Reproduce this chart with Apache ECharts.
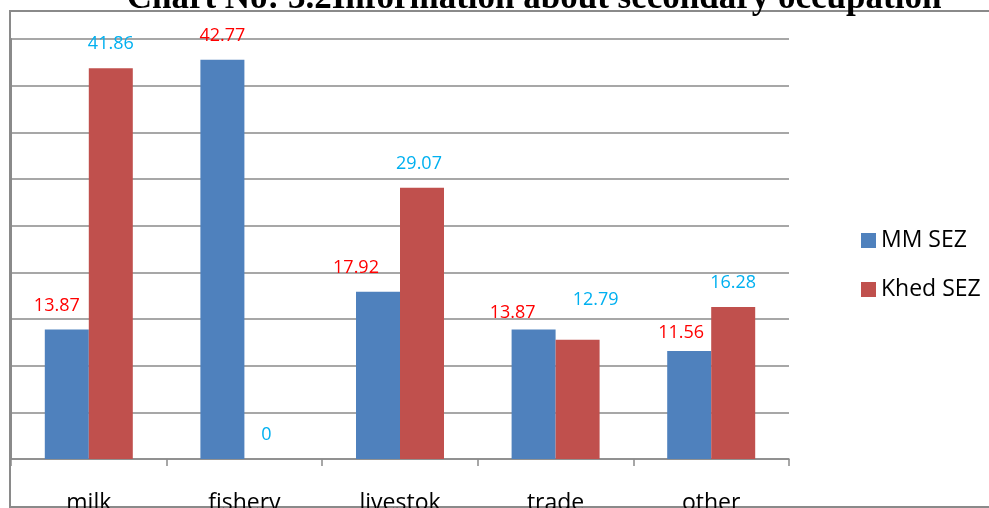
<!DOCTYPE html>
<html>
<head>
<meta charset="utf-8">
<script src="https://cdn.jsdelivr.net/npm/echarts@6/dist/echarts.min.js"></script>
<style>
  html, body { margin: 0; padding: 0; background: #ffffff; }
  #chart { width: 989px; height: 508px; }
</style>
</head>
<body>
<div id="chart"></div>
<script>
// Secondary occupation shares (%) for the two SEZ areas
const categories = ['milk', 'fishery', 'livestok', 'trade', 'other'];
const mmSez = [13.87, 42.77, 17.92, 13.87, 11.56];
const khedSez = [41.86, 0, 29.07, 12.79, 16.28];
const seriesNames = ['MM SEZ', 'Khed SEZ'];
const titleText = 'Chart No: 3.2Information about secondary occupation';

// Hand-placed label nudges [dx, dy] in pixels, one per category
const mmLabelShift = [[-10, 0], [0, 0], [-22, 0], [-21, 7], [-8, 6]];
const khedLabelShift = [[0, 0], [0, 0], [-3, 0], [18, -16], [0, 0]];

const BLUE = '#4F81BD';
const RED = '#C0504D';
const GRID = '#8a8a8a';
const FONT = '"Open Sans", "Noto Sans", sans-serif';

function withLabels(values, shifts, color) {
  return values.map((v, i) => ({
    value: v,
    label: { offset: shifts[i], color: color }
  }));
}

const chart = echarts.init(document.getElementById('chart'), null, { renderer: 'canvas' });

chart.setOption({
  backgroundColor: '#ffffff',
  animation: false,
  grid: { left: 11, right: 200, top: 39, bottom: 49, containLabel: false, outerBoundsMode: 'none' },
  graphic: [
    {
      type: 'rect',
      shape: { x: 10, y: 11, width: 1000, height: 496 },
      style: { fill: null, stroke: GRID, lineWidth: 2 },
      z: 0
    },
    {
      type: 'text',
      x: 534,
      y: -1.5,
      style: {
        text: titleText,
        font: 'bold 35px "Liberation Serif", "Times New Roman", serif',
        fill: '#000000',
        align: 'center',
        verticalAlign: 'middle'
      },
      z: 10
    }
  ],
  legend: {
    orient: 'vertical',
    left: 856,
    top: 224,
    icon: 'rect',
    itemWidth: 15,
    itemHeight: 15,
    itemGap: 26,
    textStyle: { fontFamily: FONT, fontSize: 23, color: '#000000', lineHeight: 22 },
    data: seriesNames
  },
  xAxis: {
    type: 'category',
    data: categories,
    axisLine: { show: true, lineStyle: { color: GRID, width: 1.5 } },
    axisTick: { show: true, length: 7, lineStyle: { color: GRID, width: 1.5 } },
    axisLabel: { fontFamily: FONT, fontSize: 23, color: '#000000', margin: 33 },
    splitLine: { show: false }
  },
  yAxis: {
    type: 'value',
    min: 0,
    max: 45,
    interval: 5,
    axisLine: { show: true, lineStyle: { color: GRID, width: 2 } },
    axisTick: { show: false },
    axisLabel: { show: false },
    splitLine: { show: true, lineStyle: { color: GRID, width: 1.5 } }
  },
  series: [
    {
      name: seriesNames[0],
      type: 'bar',
      barWidth: 44,
      barGap: '0%',
      itemStyle: { color: BLUE },
      label: { show: true, position: 'top', distance: 15, fontFamily: FONT, fontSize: 18 },
      data: withLabels(mmSez, mmLabelShift, '#FF0000')
    },
    {
      name: seriesNames[1],
      type: 'bar',
      barWidth: 44,
      barGap: '0%',
      itemStyle: { color: RED },
      label: { show: true, position: 'top', distance: 15, fontFamily: FONT, fontSize: 18 },
      data: withLabels(khedSez, khedLabelShift, '#00B0F0')
    }
  ]
});
</script>
</body>
</html>
